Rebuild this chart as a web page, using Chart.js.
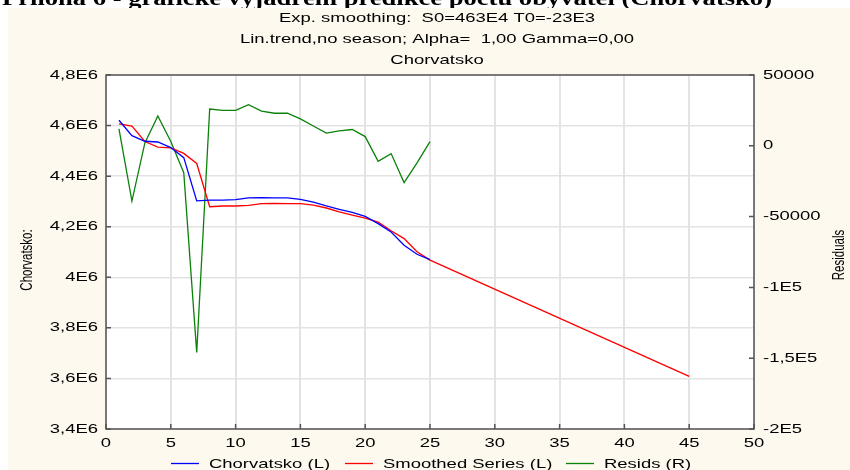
<!DOCTYPE html>
<html>
<head>
<meta charset="utf-8">
<script src="https://cdn.jsdelivr.net/npm/chart.js@4.4.0/dist/chart.umd.min.js"></script>
<style>
  html, body { margin: 0; padding: 0; background: #fff; }
  #wrap { width: 850px; height: 470px; }
</style>
</head>
<body>
<div id="wrap"><canvas id="chart" width="850" height="470"></canvas></div>
<script>
// data
const years = [1,2,3,4,5,6,7,8,9,10,11,12,13,14,15,16,17,18,19,20,21,22,23,24,25];
const chorvatsko = [4621000,4560000,4538000,4535000,4513000,4473000,4302000,4305000,4305000,4307000,
  4314000,4315000,4314000,4314000,4308000,4297000,4282000,4269000,4257000,4241000,
  4212000,4179000,4127000,4091000,4070000];
const smoothedX = [1,2,3,4,5,6,7,8,9,10,11,12,13,14,15,16,17,18,19,20,21,22,23,24,25,45];
const smoothed = [4607000,4598000,4537000,4515000,4512000,4490000,4450000,4279000,4282000,4282000,
  4284000,4291000,4292000,4291000,4291000,4285000,4274000,4259000,4246000,4234000,
  4218000,4184000,4153000,4101000,4068000,3608000];
const resids = [12000,-39000,2000,21000,3000,-19000,-146000,26000,25000,25000,
  29000,24500,23000,23000,19000,14000,9000,10500,11500,6500,
  -11000,-5500,-26000,-12000,3000];

const xTicks = [0,5,10,15,20,25,30,35,40,45,50];
const xTickLabels = ['0','5','10','15','20','25','30','35','40','45','50'];
const leftTicks = [4800000,4600000,4400000,4200000,4000000,3800000,3600000,3400000];
const leftTickLabels = ['4,8E6','4,6E6','4,4E6','4,2E6','4E6','3,8E6','3,6E6','3,4E6'];
const rightTicks = [50000,0,-50000,-100000,-150000,-200000];
const rightTickLabels = ['50000','0','-50000','-1E5','-1,5E5','-2E5'];

const titleLines = ['Exp. smoothing:  S0=463E4 T0=-23E3', 'Lin.trend,no season; Alpha=  1,00 Gamma=0,00', 'Chorvatsko'];
const docTitle = 'Příloha 6 - grafické vyjádření predikce počtu obyvatel (Chorvatsko)';

const SX = 1.42; // text in the picture is stretched sideways
const FONT = '"Liberation Sans", Arial, sans-serif';

function txt(ctx, s, x, y, align, size) {
  ctx.save();
  ctx.translate(x, y);
  ctx.scale(SX, 1);
  ctx.font = size + 'px ' + FONT;
  ctx.fillStyle = '#000';
  ctx.textAlign = align;
  ctx.textBaseline = 'middle';
  ctx.fillText(s, 0, 0);
  ctx.restore();
}

function vtxt(ctx, s, x, y, size) {
  ctx.save();
  ctx.translate(x, y);
  ctx.scale(SX, 1);
  ctx.rotate(-Math.PI / 2);
  ctx.font = size + 'px ' + FONT;
  ctx.fillStyle = '#000';
  ctx.textAlign = 'center';
  ctx.textBaseline = 'middle';
  ctx.fillText(s, 0, 0);
  ctx.restore();
}

const decor = {
  id: 'decor',
  beforeDraw(chart) {
    const ctx = chart.ctx, a = chart.chartArea;
    ctx.save();
    ctx.fillStyle = '#fff';
    ctx.fillRect(0, 0, chart.width, chart.height);
    ctx.fillStyle = '#fdf9ef';
    ctx.fillRect(8, 8, chart.width - 8, chart.height - 8);
    ctx.fillStyle = '#fff';
    ctx.fillRect(a.left, a.top, a.right - a.left, a.bottom - a.top);
    ctx.restore();
  },
  afterDraw(chart) {
    const ctx = chart.ctx, a = chart.chartArea;
    const sx = chart.scales.x, yl = chart.scales.y, yr = chart.scales.y2;
    ctx.save();
    // frame
    ctx.strokeStyle = '#555';
    ctx.lineWidth = 1.5;
    ctx.strokeRect(a.left, a.top, a.right - a.left, a.bottom - a.top);
    // inner tick marks
    ctx.beginPath();
    xTicks.forEach(v => { const p = sx.getPixelForValue(v); ctx.moveTo(p, a.bottom); ctx.lineTo(p, a.bottom - 5); });
    leftTicks.forEach(v => { const p = yl.getPixelForValue(v); ctx.moveTo(a.left, p); ctx.lineTo(a.left + 5, p); });
    rightTicks.forEach(v => { const p = yr.getPixelForValue(v); ctx.moveTo(a.right, p); ctx.lineTo(a.right - 5, p); });
    ctx.stroke();
    ctx.restore();

    // tick labels
    xTicks.forEach((v, i) => txt(ctx, xTickLabels[i], sx.getPixelForValue(v), a.bottom + 14, 'center', 13));
    leftTicks.forEach((v, i) => txt(ctx, leftTickLabels[i], a.left - 8, yl.getPixelForValue(v), 'right', 13));
    rightTicks.forEach((v, i) => txt(ctx, rightTickLabels[i], a.right + 9, yr.getPixelForValue(v), 'left', 13));

    // axis titles
    vtxt(ctx, 'Chorvatsko:', 27, 260, 11.5);
    vtxt(ctx, 'Residuals', 839, 255, 11.5);

    // chart titles
    titleLines.forEach((s, i) => txt(ctx, s, 437, 18 + i * 21, 'center', 13));

    // legend
    const items = [
      { label: chart.data.datasets[0].label, color: chart.data.datasets[0].borderColor, x: 171 },
      { label: chart.data.datasets[1].label, color: chart.data.datasets[1].borderColor, x: 345 },
      { label: chart.data.datasets[2].label, color: chart.data.datasets[2].borderColor, x: 566 }
    ];
    items.forEach(it => {
      ctx.save();
      ctx.strokeStyle = it.color;
      ctx.lineWidth = 1.3;
      ctx.beginPath();
      ctx.moveTo(it.x, 463.5);
      ctx.lineTo(it.x + 28, 463.5);
      ctx.stroke();
      ctx.restore();
      txt(ctx, it.label, it.x + 38, 464, 'left', 13);
    });

    // document heading, cut off by the top of the picture
    ctx.save();
    ctx.font = 'bold 22px "Liberation Serif", "Times New Roman", serif';
    const w = ctx.measureText(docTitle).width;
    ctx.beginPath();
    ctx.rect(0, 0, chart.width, 8);
    ctx.clip();
    ctx.translate(2, 5);
    ctx.scale(770 / w, 1);
    ctx.fillStyle = '#000';
    ctx.textBaseline = 'alphabetic';
    ctx.fillText(docTitle, 0, 0);
    ctx.restore();
  }
};

new Chart(document.getElementById('chart'), {
  type: 'line',
  data: {
    datasets: [{
      label: 'Chorvatsko (L)',
      data: years.map((x, i) => ({ x: x, y: chorvatsko[i] })),
      borderColor: '#0000ff',
      borderWidth: 1.3,
      pointRadius: 0,
      tension: 0,
      yAxisID: 'y'
    }, {
      label: 'Smoothed Series (L)',
      data: smoothedX.map((x, i) => ({ x: x, y: smoothed[i] })),
      borderColor: '#ff0000',
      borderWidth: 1.3,
      pointRadius: 0,
      tension: 0,
      yAxisID: 'y'
    }, {
      label: 'Resids (R)',
      data: years.map((x, i) => ({ x: x, y: resids[i] })),
      borderColor: '#0a820a',
      borderWidth: 1.3,
      pointRadius: 0,
      tension: 0,
      yAxisID: 'y2'
    }]
  },
  options: {
    responsive: false,
    animation: false,
    devicePixelRatio: 1,
    layout: { padding: { left: 106, right: 96, top: 75, bottom: 41 } },
    plugins: { legend: { display: false }, title: { display: false }, tooltip: { enabled: false } },
    scales: {
      x: {
        type: 'linear', min: 0, max: 50,
        ticks: { display: false, stepSize: 5 },
        grid: { color: '#e3e3e3', lineWidth: 2, drawTicks: false },
        border: { display: false }
      },
      y: {
        position: 'left', min: 3400000, max: 4800000,
        ticks: { display: false, stepSize: 200000 },
        grid: { color: '#e3e3e3', lineWidth: 1.5, drawTicks: false },
        border: { display: false }
      },
      y2: {
        position: 'right', min: -200000, max: 50000,
        ticks: { display: false, stepSize: 50000 },
        grid: { display: false, drawTicks: false },
        border: { display: false }
      }
    }
  },
  plugins: [decor]
});
</script>
</body>
</html>
